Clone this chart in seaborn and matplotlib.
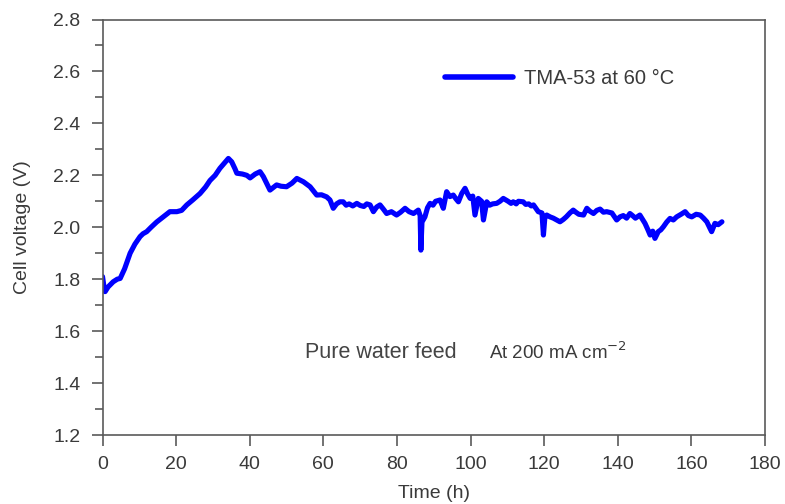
import matplotlib
matplotlib.use("Agg")
import matplotlib.pyplot as plt
from matplotlib.ticker import MultipleLocator
import pandas as pd
import seaborn as sns

# Durability run: cell voltage versus time
time_h = [
    0.0, 0.4, 0.7, 1.5, 2.9, 4.0, 4.8, 6.0, 7.5, 8.8, 10.2, 11.0, 12.0, 13.2,
    14.7, 16.5, 18.3, 20.2, 21.5, 22.9, 24.5, 26.5, 28.0, 29.2, 30.6, 31.9,
    33.0, 34.2, 35.1, 36.0, 36.5, 38.0, 39.2, 40.1, 41.5, 42.8, 43.7, 45.5,
    47.3, 48.5, 50.0, 51.5, 52.8, 54.6, 56.4, 58.2, 59.5, 60.9, 61.8, 62.7,
    63.6, 64.5, 65.4, 66.2, 67.0, 68.0, 69.1, 70.0, 71.0, 71.8, 72.7, 73.6,
    74.5, 75.4, 76.3, 77.2, 78.5, 79.9, 81.0, 82.2, 83.3, 84.5, 85.8, 86.3,
    86.5, 86.8, 87.6, 88.3, 89.0, 89.8, 90.5, 91.7, 92.6, 93.5, 94.4, 95.3,
    96.0, 96.7, 97.6, 98.5, 99.2, 99.9, 100.6, 101.2, 102.1, 103.0, 103.5,
    104.4, 105.2, 106.0, 107.1, 108.0, 108.9, 110.2, 111.0, 111.6, 112.4,
    113.0, 114.3, 115.0, 115.8, 116.5, 117.1, 118.4, 119.4, 119.8, 120.2,
    120.7, 121.6, 122.5, 123.4, 124.3, 125.2, 126.0, 127.0, 127.9, 128.6,
    129.4, 130.7, 131.6, 132.4, 133.4, 134.3, 135.2, 136.1, 137.0, 138.4,
    139.7, 140.6, 141.5, 142.4, 143.3, 144.0, 144.8, 146.0, 147.4, 148.2,
    148.8, 149.5, 150.1, 151.0, 151.7, 152.4, 153.3, 154.2, 155.1, 156.0,
    157.2, 158.3, 159.2, 160.1, 161.3, 162.4, 163.3, 164.2, 165.5, 166.4,
    167.3, 168.3,
]
voltage_v = [
    1.81, 1.77, 1.752, 1.77, 1.79, 1.80, 1.803, 1.84, 1.90, 1.935, 1.964, 1.975,
    1.983, 2.00, 2.02, 2.04, 2.06, 2.06, 2.065, 2.086, 2.105, 2.13, 2.155,
    2.18, 2.20, 2.227, 2.245, 2.265, 2.252, 2.225, 2.208, 2.205, 2.20, 2.19,
    2.205, 2.214, 2.195, 2.143, 2.163, 2.158, 2.156, 2.17, 2.188, 2.175,
    2.156, 2.124, 2.125, 2.117, 2.105, 2.073, 2.09, 2.098, 2.098, 2.085,
    2.09, 2.082, 2.092, 2.084, 2.08, 2.09, 2.086, 2.06, 2.078, 2.086, 2.07,
    2.053, 2.06, 2.047, 2.058, 2.073, 2.06, 2.053, 2.066, 2.045, 1.912, 2.02,
    2.04, 2.075, 2.092, 2.085, 2.10, 2.105, 2.073, 2.137, 2.118, 2.124, 2.11,
    2.098, 2.13, 2.15, 2.128, 2.111, 2.12, 2.047, 2.111, 2.10, 2.028, 2.098,
    2.085, 2.09, 2.092, 2.10, 2.111, 2.10, 2.092, 2.098, 2.09, 2.10, 2.098,
    2.088, 2.09, 2.082, 2.086, 2.06, 2.055, 1.97, 2.04, 2.047, 2.04, 2.035,
    2.028, 2.021, 2.03, 2.04, 2.055, 2.066, 2.058, 2.05, 2.047, 2.073, 2.062,
    2.053, 2.065, 2.07, 2.058, 2.06, 2.055, 2.028, 2.04, 2.045, 2.035, 2.053,
    2.045, 2.035, 2.047, 2.015, 1.99, 1.97, 1.985, 1.957, 1.983, 1.99, 2.002,
    2.02, 2.034, 2.028, 2.04, 2.05, 2.06, 2.045, 2.04, 2.05, 2.047, 2.035,
    2.021, 1.983, 2.015, 2.01, 2.021,
]

series_label = "TMA-53 at 60 °C"
x_ticks = [0, 20, 40, 60, 80, 100, 120, 140, 160, 180]
y_ticks = [1.2, 1.4, 1.6, 1.8, 2.0, 2.2, 2.4, 2.6, 2.8]

df = pd.DataFrame({"Time (h)": time_h, "Cell voltage (V)": voltage_v})

sns.set_theme(style="ticks")
plt.rcParams["font.family"] = ["Liberation Sans", "DejaVu Sans"]

spine_col = "#5a5a5a"
text_col = "#3a3a3a"
W, H = 785, 504

fig = plt.figure(figsize=(W / 100, H / 100), dpi=100)
ax = fig.add_axes([0.1306, 0.1369, 0.8439, 0.8244])

sns.lineplot(data=df, x="Time (h)", y="Cell voltage (V)", ax=ax,
             color="#0000ff", linewidth=3.7, label=series_label,
             estimator=None, sort=False, solid_joinstyle="round",
             solid_capstyle="round")

ax.set_xlim(0, 180)
ax.set_ylim(1.2, 2.8)
ax.set_xticks(x_ticks)
ax.set_xticklabels([f"{t:d}" for t in x_ticks])
ax.set_yticks(y_ticks)
ax.set_yticklabels([f"{v:.1f}" for v in y_ticks])
ax.yaxis.set_minor_locator(MultipleLocator(0.1))

for side in ["left", "bottom", "top", "right"]:
    ax.spines[side].set_color(spine_col)
    ax.spines[side].set_linewidth(1.2)

ax.tick_params(axis="both", which="major", direction="out", length=8,
               width=1.2, color=spine_col, labelsize=14, labelcolor=text_col)
ax.tick_params(axis="x", which="major", pad=7)
ax.tick_params(axis="y", which="major", pad=8)
ax.tick_params(axis="y", which="minor", direction="out", length=6,
               width=1.2, color=spine_col)
ax.tick_params(top=False, right=False)

ax.set_xlabel("Time (h)", fontsize=14, color=text_col, labelpad=9)
ax.set_ylabel("Cell voltage (V)", fontsize=14, color=text_col, labelpad=16)

leg = ax.legend(loc="center left", bbox_to_anchor=(0.517, 0.857),
                frameon=False, fontsize=14.5, handlelength=3.4,
                handletextpad=0.5, borderpad=0, borderaxespad=0)
for line in leg.get_lines():
    line.set_linewidth(4)
for t in leg.get_texts():
    t.set_color(text_col)

fig.text(305 / W, 1 - 352 / H, "Pure water feed", fontsize=15.5,
         color="#444444", va="center", ha="left")
fig.text(489 / W, 1 - 352 / H, "At 200 mA cm$^{-2}$", fontsize=13.5,
         color=text_col, va="center", ha="left")

fig.savefig("out.png", dpi=100)
